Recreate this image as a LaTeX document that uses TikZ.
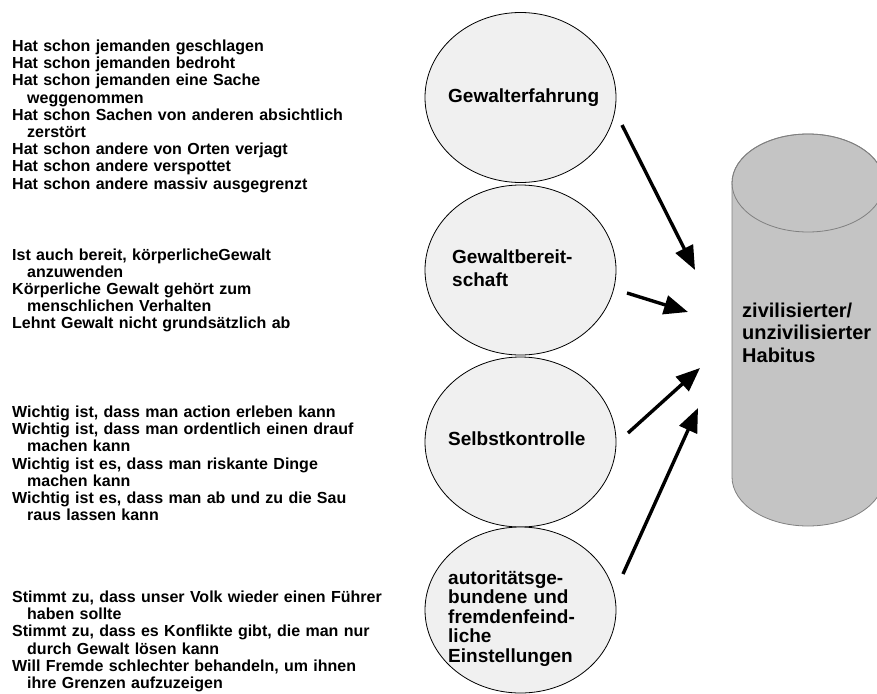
\documentclass[tikz,border=0pt]{standalone}
\usepackage{fontspec}
\setmainfont{Liberation Sans}
\usetikzlibrary{shapes.geometric,arrows.meta}
\definecolor{ellfill}{HTML}{F0F0F0}
\definecolor{cylfill}{HTML}{C4C4C4}
\definecolor{cylline}{HTML}{808080}
\tikzset{
  itemtext/.style={anchor=base west, inner sep=0pt, text width=390pt, align=left,
    font=\fontsize{16}{17.2}\selectfont\bfseries},
  factor/.style={ellipse, draw=black, line width=0.8pt, fill=ellfill,
    minimum width=191pt, minimum height=170pt, inner sep=0pt},
  factortext/.style={anchor=base west, inner sep=0pt, text width=170pt, align=left,
    font=\fontsize{19}{19.5}\selectfont\bfseries},
  habtext/.style={anchor=base west, inner sep=0pt, text width=200pt, align=left,
    font=\fontsize{20}{22.5}\selectfont\bfseries},
  effect/.style={line width=3.4pt, -{Triangle[length=24pt,width=19pt]}}
}
\begin{document}
\begin{tikzpicture}[x=1pt,y=-1pt]
\useasboundingbox (0,0) rectangle (877,693);
\fill[white] (0,0) rectangle (877,693);

% left item lists
\node[itemtext] (t1) at (12,51.5) {Hat schon jemanden geschlagen\\
Hat schon jemanden bedroht\\
Hat schon jemanden eine Sache\\
\hspace*{15pt}weggenommen\\
Hat schon Sachen von anderen absichtlich\\
\hspace*{15pt}zerstört\\
Hat schon andere von Orten verjagt\\
Hat schon andere verspottet\\
Hat schon andere massiv ausgegrenzt};

\node[itemtext] (t2) at (12,260) {Ist auch bereit, körperlicheGewalt\\
\hspace*{15pt}anzuwenden\\
Körperliche Gewalt gehört zum\\
\hspace*{15pt}menschlichen Verhalten\\
Lehnt Gewalt nicht grundsätzlich ab};

\node[itemtext] (t3) at (12,417.5) {Wichtig ist, dass man action erleben kann\\
Wichtig ist, dass man ordentlich einen drauf\\
\hspace*{15pt}machen kann\\
Wichtig ist es, dass man riskante Dinge\\
\hspace*{15pt}machen kann\\
Wichtig ist es, dass man ab und zu die Sau\\
\hspace*{15pt}raus lassen kann};

\node[itemtext] (t4) at (12,602.5) {Stimmt zu, dass unser Volk wieder einen Führer\\
\hspace*{15pt}haben sollte\\
Stimmt zu, dass es Konflikte gibt, die man nur\\
\hspace*{15pt}durch Gewalt lösen kann\\
Will Fremde schlechter behandeln, um ihnen\\
\hspace*{15pt}ihre Grenzen aufzuzeigen};

% factor ellipses
\node[factor] (e1) at (520.5,97.5) {};
\node[factor] (e2) at (520.5,270) {};
\node[factor] (e3) at (520.5,442) {};
\node[factor, minimum height=166pt] (e4) at (520.5,610) {};

\node[factortext] (f1) at (448,102) {Gewalterfahrung};
\node[factortext, font=\fontsize{19}{23.5}\selectfont\bfseries] (f2) at (452,263) {Gewaltbereit-\\schaft};
\node[factortext] (f3) at (448,445) {Selbstkontrolle};
\node[factortext] (f4) at (448,584) {autoritätsge-\\bundene und\\fremdenfeind-\\liche\\Einstellungen};

% cylinder
\path[fill=cylfill, draw=cylline, line width=0.8pt]
  (732,183) -- (732,477) arc[start angle=180, end angle=360, x radius=76, y radius=-49]
  -- (884,183) arc[start angle=0, end angle=180, x radius=76, y radius=-49] -- cycle;
\draw[cylline, line width=0.8pt] (808,183) ellipse[x radius=76, y radius=49];
\node[habtext] (hab) at (742,317) {zivilisierter/\\unzivilisierter\\Habitus};

% arrows
\coordinate (a1s) at (622,125); \coordinate (a1e) at (695,270);
\coordinate (a2s) at (627,293); \coordinate (a2e) at (688,312);
\coordinate (a3s) at (628,433); \coordinate (a3e) at (700,368);
\coordinate (a4s) at (623,574); \coordinate (a4e) at (698,408);
\draw[effect] (a1s) -- (a1e);
\draw[effect] (a2s) -- (a2e);
\draw[effect] (a3s) -- (a3e);
\draw[effect] (a4s) -- (a4e);
\end{tikzpicture}
\end{document}
